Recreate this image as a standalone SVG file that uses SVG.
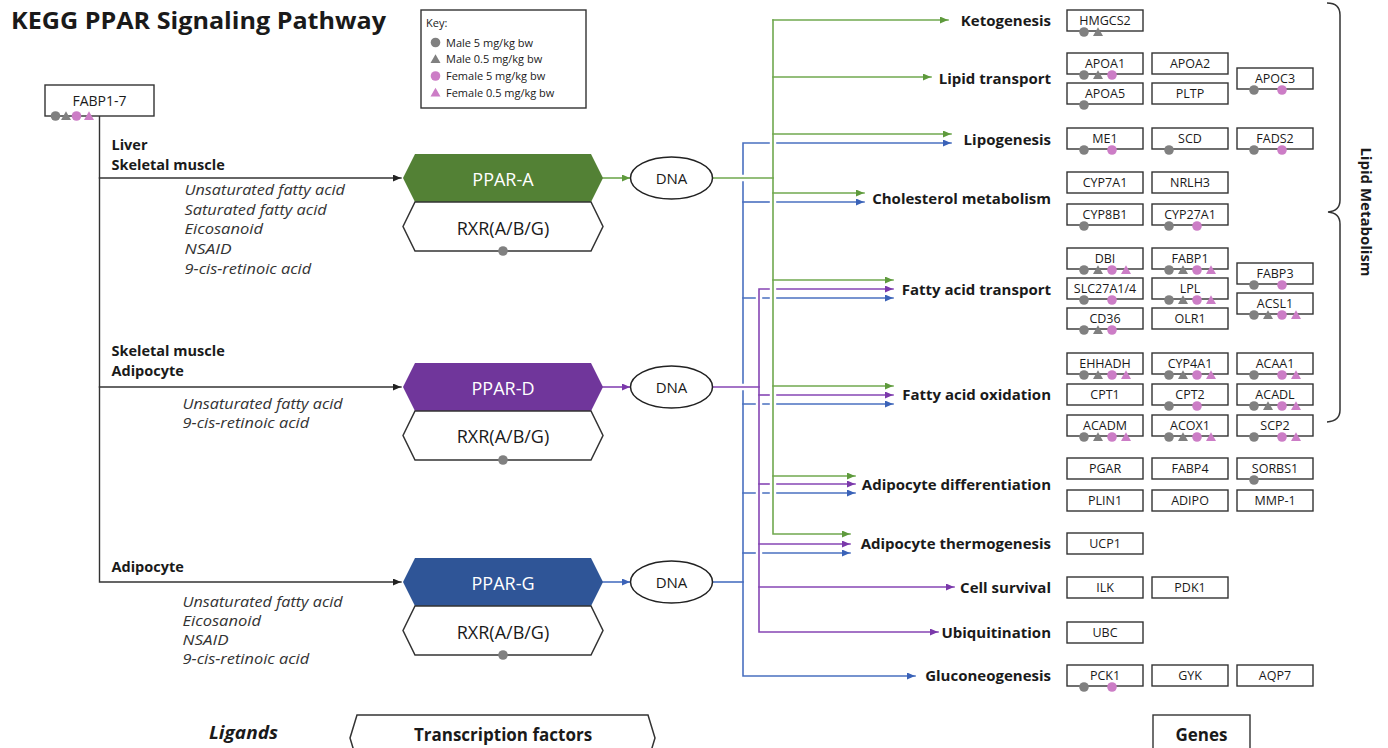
<svg xmlns="http://www.w3.org/2000/svg" xmlns:xlink="http://www.w3.org/1999/xlink" width="1388" height="748" viewBox="0 0 1388 748">
<style>
text{font-family:"Open Sans","Liberation Sans",Arial,sans-serif;fill:#1a1a1a}
.title{font-size:24px;font-weight:700}
.key{font-size:11px}
.tis{font-size:14.5px;font-weight:700}
.lig{font-size:15px;font-style:italic;fill:#333}
.hexl{font-size:18px;text-anchor:middle}
.ppar{fill:#fff}
.dna{font-size:15px;text-anchor:middle}
.proc{font-size:15px;font-weight:700;text-anchor:end}
.gene{font-size:12.5px;text-anchor:middle}
.big{font-size:17px;font-weight:700;text-anchor:middle}
.box{fill:#fff;stroke:#333;stroke-width:1.4}
.hx{fill:#fff;stroke:#333;stroke-width:1.5}
.c{fill:none;stroke-width:1.6;stroke-linecap:square}
.k{stroke:#333;stroke-width:1.4}
.g{stroke:#70a84f}
.p{stroke:#8646b4}
.b{stroke:#4a70c0}
</style>
<defs>
<marker id="ak" viewBox="0 0 8 7" refX="8" refY="3.5" markerWidth="8" markerHeight="7" markerUnits="userSpaceOnUse" orient="auto"><path d="M0,0 L8,3.5 L0,7z" fill="#222"/></marker>
<marker id="ag" viewBox="0 0 8 7" refX="8" refY="3.5" markerWidth="8" markerHeight="7" markerUnits="userSpaceOnUse" orient="auto"><path d="M0,0 L8,3.5 L0,7z" fill="#5e9a3c"/></marker>
<marker id="ap" viewBox="0 0 8 7" refX="8" refY="3.5" markerWidth="8" markerHeight="7" markerUnits="userSpaceOnUse" orient="auto"><path d="M0,0 L8,3.5 L0,7z" fill="#7a38aa"/></marker>
<marker id="ab" viewBox="0 0 8 7" refX="8" refY="3.5" markerWidth="8" markerHeight="7" markerUnits="userSpaceOnUse" orient="auto"><path d="M0,0 L8,3.5 L0,7z" fill="#3a62b8"/></marker>
<circle id="gc" r="4.8" fill="#808080"/>
<circle id="pc" r="4.8" fill="#cc7dc6"/>
<path id="gt" d="M0,-4.8 L5,4 L-5,4Z" fill="#808080"/>
<path id="pt" d="M0,-4.8 L5,4 L-5,4Z" fill="#cc7dc6"/>
</defs>
<rect width="1388" height="748" fill="#fff"/>

<text class="title" x="11" y="29" textLength="375" lengthAdjust="spacingAndGlyphs">KEGG PPAR Signaling Pathway</text>

<g id="key">
<rect class="box" x="421" y="10" width="165" height="98"/>
<text class="key" x="426" y="27">Key:</text>
<use href="#gc" x="435.5" y="42.5"/><text class="key" x="446" y="46.5">Male 5 mg/kg bw</text>
<use href="#gt" x="435.5" y="59"/><text class="key" x="446" y="63">Male 0.5 mg/kg bw</text>
<use href="#pc" x="435.5" y="76"/><text class="key" x="446" y="80">Female 5 mg/kg bw</text>
<use href="#pt" x="435.5" y="92.5"/><text class="key" x="446" y="96.5">Female 0.5 mg/kg bw</text>
</g>

<g id="connectors">
<path class="c k" d="M99.5,116 V582 H401" marker-end="url(#ak)"/>
<path class="c k" d="M99.5,178 H401" marker-end="url(#ak)"/>
<path class="c k" d="M99.5,387 H401" marker-end="url(#ak)"/>
<path class="c g" d="M603,178 H630" marker-end="url(#ag)"/>
<path class="c p" d="M603,387 H630" marker-end="url(#ap)"/>
<path class="c b" d="M603,582 H630" marker-end="url(#ab)"/>
<path class="c b" d="M769,143 H743 V174"/>
<path class="c b" d="M777,143 H951" marker-end="url(#ab)"/>
<path class="c b" d="M743,182 V383"/>
<path class="c b" d="M743,391 V676 H915" marker-end="url(#ab)"/>
<path class="c b" d="M743,202 H769"/>
<path class="c b" d="M777,202 H864" marker-end="url(#ab)"/>
<path class="c b" d="M743,298 H755 M763,298 H769"/>
<path class="c b" d="M777,298 H893" marker-end="url(#ab)"/>
<path class="c b" d="M743,404 H755 M763,404 H769"/>
<path class="c b" d="M777,404 H893" marker-end="url(#ab)"/>
<path class="c b" d="M743,493 H755 M763,493 H769"/>
<path class="c b" d="M777,493 H855" marker-end="url(#ab)"/>
<path class="c b" d="M743,553 H755"/>
<path class="c b" d="M763,553 H850" marker-end="url(#ab)"/>
<path class="c b" d="M713,582 H743"/>
<path class="c p" d="M769,289 H759 V632 H938" marker-end="url(#ap)"/>
<path class="c p" d="M777,289 H893" marker-end="url(#ap)"/>
<path class="c p" d="M759,395 H769"/>
<path class="c p" d="M777,395 H893" marker-end="url(#ap)"/>
<path class="c p" d="M759,484 H769"/>
<path class="c p" d="M777,484 H855" marker-end="url(#ap)"/>
<path class="c p" d="M759,544 H850" marker-end="url(#ap)"/>
<path class="c p" d="M759,587 H954" marker-end="url(#ap)"/>
<path class="c p" d="M713,387 H759"/>
<path class="c g" d="M773,20 V534 H850" marker-end="url(#ag)"/>
<path class="c g" d="M773,20 H948" marker-end="url(#ag)"/>
<path class="c g" d="M773,77 H931" marker-end="url(#ag)"/>
<path class="c g" d="M773,134 H951" marker-end="url(#ag)"/>
<path class="c g" d="M773,193 H864" marker-end="url(#ag)"/>
<path class="c g" d="M773,280 H893" marker-end="url(#ag)"/>
<path class="c g" d="M773,386 H893" marker-end="url(#ag)"/>
<path class="c g" d="M773,476 H855" marker-end="url(#ag)"/>
<path class="c g" d="M713,178 H773"/>
</g>

<g id="fabp17">
<rect class="box" x="45" y="85" width="109" height="31"/>
<text class="gene" x="99.5" y="106" style="font-size:14px">FABP1-7</text>
<use href="#gc" x="55.5" y="116"/><use href="#gt" x="66" y="116"/><use href="#pc" x="76.5" y="116"/><use href="#pt" x="89" y="116"/>
</g>

<g id="ligands-a">
<text class="tis" x="111.5" y="150">Liver</text>
<text class="tis" x="111.5" y="169.5">Skeletal muscle</text>
<text class="lig" x="184.5" y="195" textLength="160.5" lengthAdjust="spacingAndGlyphs">Unsaturated fatty acid</text>
<text class="lig" x="184.5" y="215" textLength="142.3" lengthAdjust="spacingAndGlyphs">Saturated fatty acid</text>
<text class="lig" x="184.5" y="234" textLength="78.5" lengthAdjust="spacingAndGlyphs">Eicosanoid</text>
<text class="lig" x="184.5" y="253.5" textLength="47" lengthAdjust="spacingAndGlyphs">NSAID</text>
<text class="lig" x="184.5" y="274" textLength="126.7" lengthAdjust="spacingAndGlyphs">9-cis-retinoic acid</text>
</g>
<g id="ligands-d">
<text class="tis" x="111.5" y="356">Skeletal muscle</text>
<text class="tis" x="111.5" y="375.5">Adipocyte</text>
<text class="lig" x="182.5" y="408.5" textLength="160.2" lengthAdjust="spacingAndGlyphs">Unsaturated fatty acid</text>
<text class="lig" x="182.5" y="427.5" textLength="126.7" lengthAdjust="spacingAndGlyphs">9-cis-retinoic acid</text>
</g>
<g id="ligands-g">
<text class="tis" x="111.5" y="571.5">Adipocyte</text>
<text class="lig" x="182.5" y="607" textLength="160.2" lengthAdjust="spacingAndGlyphs">Unsaturated fatty acid</text>
<text class="lig" x="182.5" y="626" textLength="78.5" lengthAdjust="spacingAndGlyphs">Eicosanoid</text>
<text class="lig" x="182.5" y="645" textLength="46" lengthAdjust="spacingAndGlyphs">NSAID</text>
<text class="lig" x="182.5" y="664" textLength="126.7" lengthAdjust="spacingAndGlyphs">9-cis-retinoic acid</text>
</g>

<g id="ppar-a">
<path d="M403,178 L415,154 L591,154 L603,178 L591,202 L415,202 Z" fill="#538135"/>
<text class="hexl ppar" x="503" y="186">PPAR-A</text>
</g>
<g id="rxr-a">
<path class="hx" d="M403,226.5 L415,202 L591,202 L603,226.5 L591,251 L415,251 Z"/>
<text class="hexl" x="503" y="234.5">RXR(A/B/G)</text>
<use href="#gc" x="503" y="251"/>
</g>
<g id="ppar-d">
<path d="M403,387 L415,363 L591,363 L603,387 L591,411 L415,411 Z" fill="#70369b"/>
<text class="hexl ppar" x="503" y="395">PPAR-D</text>
</g>
<g id="rxr-d">
<path class="hx" d="M403,435.5 L415,411 L591,411 L603,435.5 L591,460 L415,460 Z"/>
<text class="hexl" x="503" y="443">RXR(A/B/G)</text>
<use href="#gc" x="503" y="460"/>
</g>
<g id="ppar-g">
<path d="M403,582 L415,558 L591,558 L603,582 L591,606 L415,606 Z" fill="#2f5597"/>
<text class="hexl ppar" x="503" y="590">PPAR-G</text>
</g>
<g id="rxr-g">
<path class="hx" d="M403,630.5 L415,606 L591,606 L603,630.5 L591,655 L415,655 Z"/>
<text class="hexl" x="503" y="638.5">RXR(A/B/G)</text>
<use href="#gc" x="503" y="655"/>
</g>

<g id="dna-a"><ellipse cx="671.5" cy="178" rx="41" ry="21" fill="#fff" stroke="#222" stroke-width="1.5"/><text class="dna" x="671.5" y="183.5">DNA</text></g>
<g id="dna-d"><ellipse cx="671.5" cy="387" rx="41" ry="21" fill="#fff" stroke="#222" stroke-width="1.5"/><text class="dna" x="671.5" y="392.5">DNA</text></g>
<g id="dna-g"><ellipse cx="671.5" cy="582" rx="41" ry="21" fill="#fff" stroke="#222" stroke-width="1.5"/><text class="dna" x="671.5" y="587.5">DNA</text></g>

<g id="processes">
<text class="proc" x="1051" y="26">Ketogenesis</text>
<text class="proc" x="1051" y="83.5">Lipid transport</text>
<text class="proc" x="1051" y="144.5">Lipogenesis</text>
<text class="proc" x="1051" y="203.5">Cholesterol metabolism</text>
<text class="proc" x="1051" y="294.5">Fatty acid transport</text>
<text class="proc" x="1051" y="400">Fatty acid oxidation</text>
<text class="proc" x="1051" y="489.5">Adipocyte differentiation</text>
<text class="proc" x="1051" y="548.5">Adipocyte thermogenesis</text>
<text class="proc" x="1051" y="592.5">Cell survival</text>
<text class="proc" x="1051" y="637.5">Ubiquitination</text>
<text class="proc" x="1051" y="681">Gluconeogenesis</text>
</g>

<g id="genes">
<g id="g-HMGCS2"><rect class="box" x="1067" y="10" width="76" height="21"/><text class="gene" x="1105" y="25">HMGCS2</text><use href="#gc" x="1084" y="32"/><use href="#gt" x="1098" y="32"/></g>
<g id="g-APOA1"><rect class="box" x="1067" y="53" width="76" height="21"/><text class="gene" x="1105" y="68">APOA1</text><use href="#gc" x="1084" y="75"/><use href="#gt" x="1098" y="75"/><use href="#pc" x="1112" y="75"/></g>
<g id="g-APOA2"><rect class="box" x="1152" y="53" width="76" height="21"/><text class="gene" x="1190" y="68">APOA2</text></g>
<g id="g-APOC3"><rect class="box" x="1237" y="68" width="76" height="21"/><text class="gene" x="1275" y="83">APOC3</text><use href="#gc" x="1254" y="90"/><use href="#pc" x="1282" y="90"/></g>
<g id="g-APOA5"><rect class="box" x="1067" y="83" width="76" height="21"/><text class="gene" x="1105" y="98">APOA5</text><use href="#gc" x="1084" y="105"/></g>
<g id="g-PLTP"><rect class="box" x="1152" y="83" width="76" height="21"/><text class="gene" x="1190" y="98">PLTP</text></g>
<g id="g-ME1"><rect class="box" x="1067" y="128" width="76" height="21"/><text class="gene" x="1105" y="143">ME1</text><use href="#gc" x="1084" y="150"/><use href="#pc" x="1112" y="150"/></g>
<g id="g-SCD"><rect class="box" x="1152" y="128" width="76" height="21"/><text class="gene" x="1190" y="143">SCD</text><use href="#gc" x="1169" y="150"/></g>
<g id="g-FADS2"><rect class="box" x="1237" y="128" width="76" height="21"/><text class="gene" x="1275" y="143">FADS2</text><use href="#gc" x="1254" y="150"/><use href="#pc" x="1282" y="150"/></g>
<g id="g-CYP7A1"><rect class="box" x="1067" y="172" width="76" height="21"/><text class="gene" x="1105" y="187">CYP7A1</text></g>
<g id="g-NRLH3"><rect class="box" x="1152" y="172" width="76" height="21"/><text class="gene" x="1190" y="187">NRLH3</text></g>
<g id="g-CYP8B1"><rect class="box" x="1067" y="204" width="76" height="21"/><text class="gene" x="1105" y="219">CYP8B1</text><use href="#gc" x="1084" y="226"/></g>
<g id="g-CYP27A1"><rect class="box" x="1152" y="204" width="76" height="21"/><text class="gene" x="1190" y="219">CYP27A1</text><use href="#gc" x="1169" y="226"/><use href="#pc" x="1197" y="226"/></g>
<g id="g-DBI"><rect class="box" x="1067" y="248" width="76" height="21"/><text class="gene" x="1105" y="263">DBI</text><use href="#gc" x="1084" y="270"/><use href="#gt" x="1098" y="270"/><use href="#pc" x="1112" y="270"/><use href="#pt" x="1126" y="270"/></g>
<g id="g-FABP1"><rect class="box" x="1152" y="248" width="76" height="21"/><text class="gene" x="1190" y="263">FABP1</text><use href="#gc" x="1169" y="270"/><use href="#gt" x="1183" y="270"/><use href="#pc" x="1197" y="270"/><use href="#pt" x="1211" y="270"/></g>
<g id="g-FABP3"><rect class="box" x="1237" y="263" width="76" height="21"/><text class="gene" x="1275" y="278">FABP3</text><use href="#gc" x="1254" y="285"/><use href="#pc" x="1282" y="285"/></g>
<g id="g-SLC27A1-4"><rect class="box" x="1067" y="278" width="76" height="21"/><text class="gene" x="1105" y="293">SLC27A1/4</text><use href="#gc" x="1084" y="300"/><use href="#pc" x="1112" y="300"/></g>
<g id="g-LPL"><rect class="box" x="1152" y="278" width="76" height="21"/><text class="gene" x="1190" y="293">LPL</text><use href="#gc" x="1169" y="300"/><use href="#gt" x="1183" y="300"/><use href="#pc" x="1197" y="300"/><use href="#pt" x="1211" y="300"/></g>
<g id="g-ACSL1"><rect class="box" x="1237" y="293" width="76" height="21"/><text class="gene" x="1275" y="308">ACSL1</text><use href="#gc" x="1254" y="315"/><use href="#gt" x="1268" y="315"/><use href="#pc" x="1282" y="315"/><use href="#pt" x="1296" y="315"/></g>
<g id="g-CD36"><rect class="box" x="1067" y="308" width="76" height="21"/><text class="gene" x="1105" y="323">CD36</text><use href="#gc" x="1084" y="330"/><use href="#gt" x="1098" y="330"/><use href="#pc" x="1112" y="330"/></g>
<g id="g-OLR1"><rect class="box" x="1152" y="308" width="76" height="21"/><text class="gene" x="1190" y="323">OLR1</text></g>
<g id="g-EHHADH"><rect class="box" x="1067" y="353" width="76" height="21"/><text class="gene" x="1105" y="368">EHHADH</text><use href="#gc" x="1084" y="375"/><use href="#gt" x="1098" y="375"/><use href="#pc" x="1112" y="375"/><use href="#pt" x="1126" y="375"/></g>
<g id="g-CYP4A1"><rect class="box" x="1152" y="353" width="76" height="21"/><text class="gene" x="1190" y="368">CYP4A1</text><use href="#gc" x="1169" y="375"/><use href="#gt" x="1183" y="375"/><use href="#pc" x="1197" y="375"/><use href="#pt" x="1211" y="375"/></g>
<g id="g-ACAA1"><rect class="box" x="1237" y="353" width="76" height="21"/><text class="gene" x="1275" y="368">ACAA1</text><use href="#gc" x="1254" y="375"/><use href="#pc" x="1282" y="375"/><use href="#pt" x="1296" y="375"/></g>
<g id="g-CPT1"><rect class="box" x="1067" y="384" width="76" height="21"/><text class="gene" x="1105" y="399">CPT1</text></g>
<g id="g-CPT2"><rect class="box" x="1152" y="384" width="76" height="21"/><text class="gene" x="1190" y="399">CPT2</text><use href="#gc" x="1169" y="406"/><use href="#pc" x="1197" y="406"/></g>
<g id="g-ACADL"><rect class="box" x="1237" y="384" width="76" height="21"/><text class="gene" x="1275" y="399">ACADL</text><use href="#gc" x="1254" y="406"/><use href="#gt" x="1268" y="406"/><use href="#pc" x="1282" y="406"/><use href="#pt" x="1296" y="406"/></g>
<g id="g-ACADM"><rect class="box" x="1067" y="415" width="76" height="21"/><text class="gene" x="1105" y="430">ACADM</text><use href="#gc" x="1084" y="437"/><use href="#gt" x="1098" y="437"/><use href="#pc" x="1112" y="437"/><use href="#pt" x="1126" y="437"/></g>
<g id="g-ACOX1"><rect class="box" x="1152" y="415" width="76" height="21"/><text class="gene" x="1190" y="430">ACOX1</text><use href="#gc" x="1169" y="437"/><use href="#gt" x="1183" y="437"/><use href="#pc" x="1197" y="437"/><use href="#pt" x="1211" y="437"/></g>
<g id="g-SCP2"><rect class="box" x="1237" y="415" width="76" height="21"/><text class="gene" x="1275" y="430">SCP2</text><use href="#gc" x="1254" y="437"/><use href="#pc" x="1282" y="437"/><use href="#pt" x="1296" y="437"/></g>
<g id="g-PGAR"><rect class="box" x="1067" y="458" width="76" height="21"/><text class="gene" x="1105" y="473">PGAR</text></g>
<g id="g-FABP4"><rect class="box" x="1152" y="458" width="76" height="21"/><text class="gene" x="1190" y="473">FABP4</text></g>
<g id="g-SORBS1"><rect class="box" x="1237" y="458" width="76" height="21"/><text class="gene" x="1275" y="473">SORBS1</text><use href="#gc" x="1254" y="480"/></g>
<g id="g-PLIN1"><rect class="box" x="1067" y="490" width="76" height="21"/><text class="gene" x="1105" y="505">PLIN1</text></g>
<g id="g-ADIPO"><rect class="box" x="1152" y="490" width="76" height="21"/><text class="gene" x="1190" y="505">ADIPO</text></g>
<g id="g-MMP-1"><rect class="box" x="1237" y="490" width="76" height="21"/><text class="gene" x="1275" y="505">MMP-1</text></g>
<g id="g-UCP1"><rect class="box" x="1067" y="533" width="76" height="21"/><text class="gene" x="1105" y="548">UCP1</text></g>
<g id="g-ILK"><rect class="box" x="1067" y="577" width="76" height="21"/><text class="gene" x="1105" y="592">ILK</text></g>
<g id="g-PDK1"><rect class="box" x="1152" y="577" width="76" height="21"/><text class="gene" x="1190" y="592">PDK1</text></g>
<g id="g-UBC"><rect class="box" x="1067" y="622" width="76" height="21"/><text class="gene" x="1105" y="637">UBC</text></g>
<g id="g-PCK1"><rect class="box" x="1067" y="665" width="76" height="21"/><text class="gene" x="1105" y="680">PCK1</text><use href="#gc" x="1084" y="687"/><use href="#pc" x="1112" y="687"/></g>
<g id="g-GYK"><rect class="box" x="1152" y="665" width="76" height="21"/><text class="gene" x="1190" y="680">GYK</text></g>
<g id="g-AQP7"><rect class="box" x="1237" y="665" width="76" height="21"/><text class="gene" x="1275" y="680">AQP7</text></g>
</g>

<g id="lipid-metabolism">
<path d="M1327,3 Q1340,3 1340,15 V200 Q1340,211 1328,212 Q1340,213 1340,224 V410 Q1340,421 1327,422" fill="none" stroke="#333" stroke-width="1.5"/>
<text transform="translate(1361,212) rotate(90)" style="font-size:15px;font-weight:700;text-anchor:middle">Lipid Metabolism</text>
</g>

<g id="legend-ligands"><text x="209" y="739" style="font-size:18px;font-weight:700;font-style:italic" textLength="69" lengthAdjust="spacingAndGlyphs">Ligands</text></g>
<g id="legend-tf">
<path class="hx" d="M350,738 L357,715 L648,715 L655,738 L648,761 L357,761 Z"/>
<text class="big" x="503" y="740.5">Transcription factors</text>
</g>
<g id="legend-genes">
<rect class="box" x="1153" y="715" width="97" height="50"/>
<text class="big" x="1201.5" y="741">Genes</text>
</g>
</svg>
